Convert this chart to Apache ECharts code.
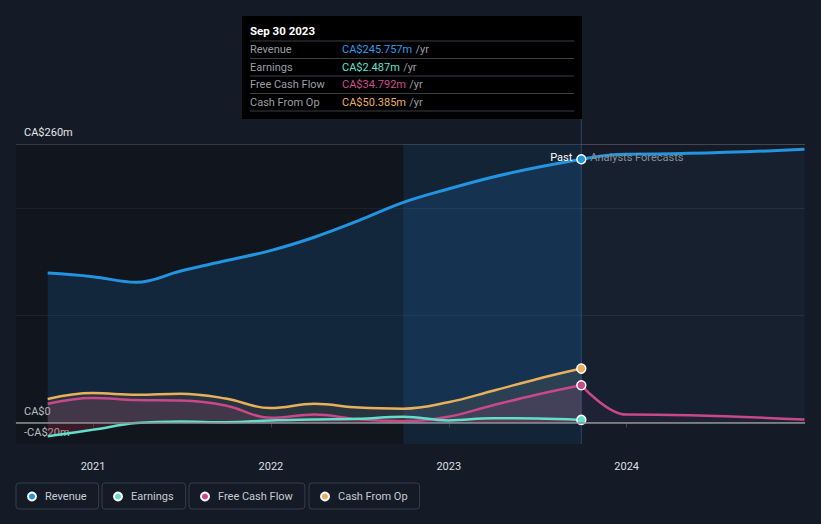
<!DOCTYPE html>
<html><head><meta charset="utf-8">
<script src="https://cdn.jsdelivr.net/npm/echarts@6/dist/echarts.min.js"></script>
<style>html,body{margin:0;padding:0;background:#151b26;}#c{width:821px;height:524px;}</style>
</head><body><div id="c"></div>
<script>
// ---- data (CA$ millions) ----
const pastDates = ['2020-09-30','2020-12-31','2021-03-31','2021-06-30','2021-09-30','2021-12-31','2022-03-31','2022-06-30','2022-09-30','2022-12-31','2023-03-31','2023-06-30','2023-09-30'];
const revenue  = [139.5, 136.2, 131, 141.5, 151, 160.5, 173, 188.5, 205.5, 218, 229, 238, 245.757];
const earnings = [-12.7, -6.8, -0.5, 1, 0.3, 2, 2.8, 3.5, 5.5, 2, 4, 3.8, 2.487];
const fcf      = [17.5, 23, 21, 20.5, 16, 4.5, 7.5, 3, 1.2, 5.5, 16, 26, 34.792];
const cfo      = [22, 27.5, 26, 27, 22.5, 13.5, 17.5, 14, 13, 19, 29.5, 40.5, 50.385];
const forecastDates = ['2023-09-30','2023-12-31','2024-12-31'];
const revenueForecast = [245.757, 250.5, 255];
const fcfForecast     = [34.792, 7.5, 2.8];
const seriesNames = ['Revenue','Earnings','Free Cash Flow','Cash From Op'];
const yTickValues = [-20, 0, 260];
const yTickLabels = ['-CA$20m', 'CA$0', 'CA$260m'];
const yearLabels = ['2021','2022','2023','2024'];
const xMin = '2020-07-27', xMax = '2025-01-01';
const highlightStart = '2022-09-30', pastEnd = '2023-09-30';
const tooltipTitle = 'Sep 30 2023';

const FONT = 'Roboto, "Noto Sans", sans-serif';
const C = {rev:'#2394df', earn:'#5fe0cc', fcf:'#c9488a', cfo:'#e9b05c'};

const zip = (d, v) => d.map((x, i) => [x, v[i]]);
const lastSym = (n) => (val, p) => p.dataIndex === n - 1 ? 9 : 0;

function lineSeries(name, dates, vals, color, width, area, endDot, monotone) {
  const s = {
    name, type: 'line', data: zip(dates, vals), smooth: 0.4,
    symbol: 'circle', showAllSymbol: true,
    symbolSize: endDot ? lastSym(vals.length) : 0,
    itemStyle: {color, borderColor: '#ffffff', borderWidth: 1.5},
    lineStyle: {color, width},
    areaStyle: {color: area, origin: 0},
    emphasis: {disabled: true}, silent: true, animation: false
  };
  if (monotone) s.smoothMonotone = 'x';
  return s;
}

const splitColors = [];
for (let v = -20; v <= 260; v += 20) {
  splitColors.push(v === 260 ? '#41464f' : (v === 100 || v === 200) ? 'rgba(255,255,255,0.07)' : 'rgba(0,0,0,0)');
}

function legendBox(name, left, color) {
  return {
    data: [{name, itemStyle: {color}}], left, top: 483,
    icon: 'circle', itemWidth: 8, itemHeight: 8,
    padding: [8, 12, 7, 11], borderColor: '#363c48', borderWidth: 1, borderRadius: 3,
    textStyle: {color: '#c7cbd1', fontSize: 11, fontFamily: FONT, padding: [0, 0, 0, 4]}
  };
}

const revPast = lineSeries('Revenue', pastDates, revenue, C.rev, 3, 'rgba(33,150,243,0.2)', true);
revPast.markArea = {
  silent: true,
  data: [
    [{xAxis: xMin, itemStyle: {color: 'rgba(0,0,0,0.2)'}}, {xAxis: pastEnd}],
    [{xAxis: highlightStart, itemStyle: {color: 'rgba(40,130,210,0.14)'}}, {xAxis: pastEnd}]
  ]
};
revPast.markLine = {
  silent: true, symbol: 'none', label: {show: false},
  lineStyle: {color: '#8c9096', width: 1.5, type: 'solid'},
  data: [{yAxis: 0}]
};

const option = {
  backgroundColor: '#151b26',
  animation: false,
  textStyle: {fontFamily: FONT},
  grid: {left: 16, right: 16, top: 144, bottom: 80},
  xAxis: {
    type: 'time', min: xMin, max: xMax,
    minInterval: 365 * 86400000, maxInterval: 366 * 86400000,
    axisLine: {lineStyle: {color: '#454a53', width: 1}},
    axisTick: {show: true, length: 5, lineStyle: {color: '#454a53'}},
    splitLine: {show: false},
    axisLabel: {
      color: '#dcdfe3', fontSize: 11, fontFamily: FONT, margin: 17,
      formatter: (v) => { const y = String(new Date(v).getFullYear()); return yearLabels.includes(y) ? y : ''; }
    }
  },
  yAxis: {
    type: 'value', min: -20, max: 260, interval: 20,
    axisLine: {show: false}, axisTick: {show: false},
    splitLine: {show: true, lineStyle: {color: splitColors, width: 1}},
    axisLabel: {
      inside: true, margin: 8, color: '#e4e6ea', fontSize: 11, fontFamily: FONT,
      verticalAlign: 'bottom', padding: [0, 0, 6, 0],
      formatter: (v) => { const i = yTickValues.indexOf(v); return i >= 0 ? yTickLabels[i] : ''; }
    }
  },
  legend: [
    legendBox(seriesNames[0], 16, C.rev),
    legendBox(seriesNames[1], 102, C.earn),
    legendBox(seriesNames[2], 189, C.fcf),
    legendBox(seriesNames[3], 309, C.cfo)
  ],
  series: [
    revPast,
    lineSeries('Revenue', forecastDates, revenueForecast, C.rev, 3, 'rgba(33,150,243,0.07)', false, true),
    lineSeries('Cash From Op', pastDates, cfo, C.cfo, 2.5, 'rgba(233,176,92,0.15)', true),
    lineSeries('Free Cash Flow', pastDates, fcf, C.fcf, 2.5, 'rgba(201,72,138,0.22)', true),
    lineSeries('Free Cash Flow', forecastDates, fcfForecast, C.fcf, 2.5, 'rgba(201,72,138,0.08)', false, true),
    lineSeries('Earnings', pastDates, earnings, C.earn, 2.5, 'rgba(170,40,60,0.4)', true)
  ]
};

const chart = echarts.init(document.getElementById('c'), null, {renderer: 'svg'});
chart.setOption(option);

// overlay: pointer line, Past / Forecast labels, tooltip box
const px = chart.convertToPixel({xAxisIndex: 0}, echarts.time.parse(pastEnd).getTime());
const pyRev = chart.convertToPixel({yAxisIndex: 0}, revenue[revenue.length - 1]);
const gridBottom = chart.convertToPixel({yAxisIndex: 0}, -20);
const boxW = 340, boxH = 103, boxX = Math.round(px) - boxW + 1, boxY = 16;
const fmt = (v) => 'CA$' + v.toFixed(3) + 'm';
const rows = [
  [seriesNames[0], revenue[revenue.length - 1], '#2d9cf0'],
  [seriesNames[1], earnings[earnings.length - 1], C.earn],
  [seriesNames[2], fcf[fcf.length - 1], '#d04e90'],
  [seriesNames[3], cfo[cfo.length - 1], C.cfo]
];
const g = [
  {type: 'line', z: 1, silent: true, shape: {x1: px, y1: boxY + boxH, x2: px, y2: gridBottom}, style: {stroke: 'rgba(70,120,170,0.45)', lineWidth: 1}},
  {type: 'text', z: 10, silent: true, x: px - 9, y: pyRev - 2, style: {text: 'Past', fill: '#ffffff', font: '11px ' + FONT, align: 'right', verticalAlign: 'middle'}},
  {type: 'text', z: 10, silent: true, x: px + 9, y: pyRev - 2, style: {text: 'Analysts Forecasts', fill: '#8a8f96', font: '11px ' + FONT, align: 'left', verticalAlign: 'middle'}},
  {type: 'rect', z: 20, silent: true, shape: {x: boxX, y: boxY, width: boxW, height: boxH}, style: {fill: '#000000'}},
  {type: 'text', z: 21, silent: true, x: boxX + 8, y: 31, style: {text: tooltipTitle, fill: '#ffffff', font: 'bold 11.5px ' + FONT, verticalAlign: 'middle'}}
];
const sepYs = [41, 58.5, 76, 93.5, 111];
sepYs.forEach(y => g.push({type: 'line', z: 21, silent: true, shape: {x1: boxX + 8, y1: y, x2: boxX + boxW - 8, y2: y}, style: {stroke: '#3a3d42', lineWidth: 1}}));
rows.forEach((r, i) => {
  const y = 49.5 + i * 17.5;
  g.push({type: 'text', z: 21, silent: true, x: boxX + 8, y, style: {text: r[0], fill: '#9a9ea4', font: '11px ' + FONT, verticalAlign: 'middle'}});
  g.push({type: 'text', z: 21, silent: true, x: boxX + 100, y, style: {
    text: '{v|' + fmt(r[1]) + '} {u|/yr}', verticalAlign: 'middle',
    rich: {v: {fill: r[2], font: '11px ' + FONT}, u: {fill: '#9a9ea4', font: '11px ' + FONT}}
  }});
});
chart.setOption({graphic: g});
</script>
</body></html>
